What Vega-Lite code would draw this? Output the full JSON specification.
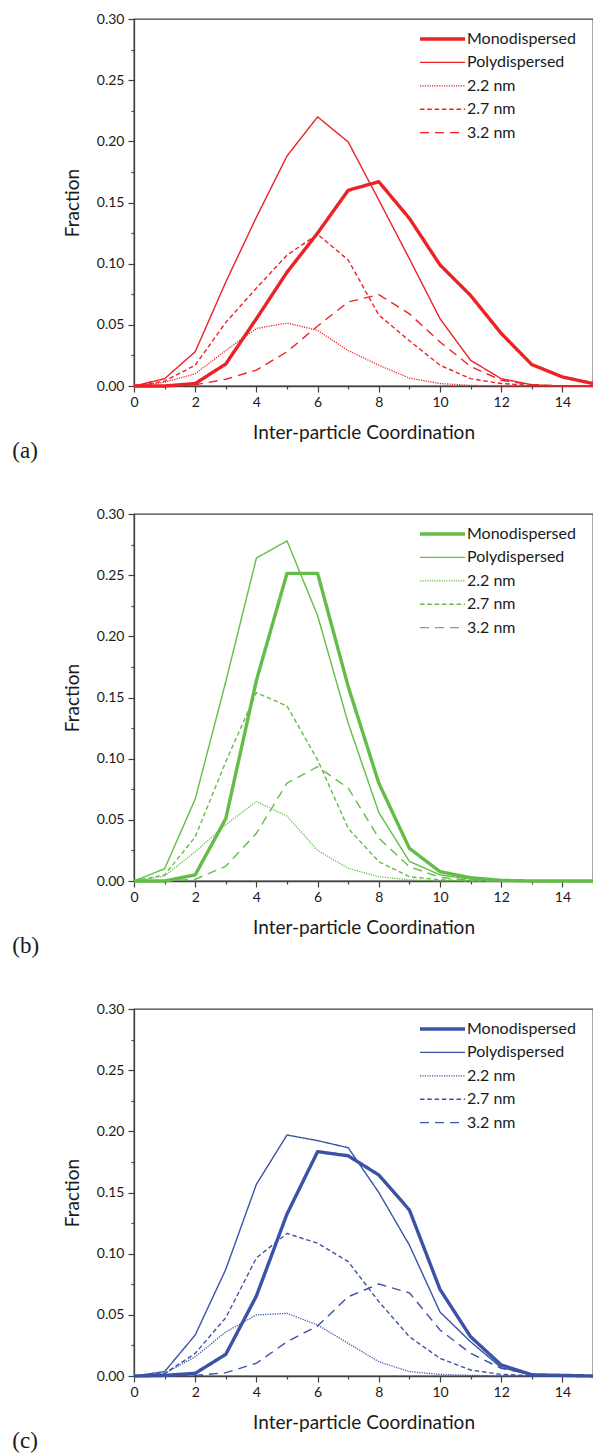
{
  "$schema": "https://vega.github.io/schema/vega-lite/v6.json",
  "padding": {"left": 11, "top": 11, "right": 0, "bottom": 0},
  "datasets": {
    "coord": [
      {"p": "a", "n": 0, "mono": 0, "poly": 0, "d22": 0, "d27": 0, "d32": 0},
      {"p": "a", "n": 1, "mono": 0, "poly": 0.006, "d22": 0.003, "d27": 0.004, "d32": 0},
      {"p": "a", "n": 2, "mono": 0.002, "poly": 0.028, "d22": 0.010, "d27": 0.017, "d32": 0.001},
      {"p": "a", "n": 3, "mono": 0.018, "poly": 0.085, "d22": 0.029, "d27": 0.052, "d32": 0.0055},
      {"p": "a", "n": 4, "mono": 0.055, "poly": 0.138, "d22": 0.047, "d27": 0.080, "d32": 0.013},
      {"p": "a", "n": 5, "mono": 0.093, "poly": 0.188, "d22": 0.0515, "d27": 0.107, "d32": 0.028},
      {"p": "a", "n": 6, "mono": 0.125, "poly": 0.220, "d22": 0.0455, "d27": 0.124, "d32": 0.049},
      {"p": "a", "n": 7, "mono": 0.160, "poly": 0.1995, "d22": 0.029, "d27": 0.103, "d32": 0.0687},
      {"p": "a", "n": 8, "mono": 0.167, "poly": 0.152, "d22": 0.017, "d27": 0.058, "d32": 0.0747},
      {"p": "a", "n": 9, "mono": 0.137, "poly": 0.104, "d22": 0.0065, "d27": 0.037, "d32": 0.059},
      {"p": "a", "n": 10, "mono": 0.099, "poly": 0.055, "d22": 0.002, "d27": 0.017, "d32": 0.036},
      {"p": "a", "n": 11, "mono": 0.074, "poly": 0.021, "d22": 0.0005, "d27": 0.006, "d32": 0.016},
      {"p": "a", "n": 12, "mono": 0.043, "poly": 0.006, "d22": 0, "d27": 0.002, "d32": 0.0047},
      {"p": "a", "n": 13, "mono": 0.0175, "poly": 0.001, "d22": 0, "d27": 0.0005, "d32": 0.001},
      {"p": "a", "n": 14, "mono": 0.0074, "poly": 0, "d22": 0, "d27": 0, "d32": 0},
      {"p": "a", "n": 15, "mono": 0.002, "poly": 0, "d22": 0, "d27": 0, "d32": 0},
      {"p": "b", "n": 0, "mono": 0, "poly": 0, "d22": 0, "d27": 0, "d32": 0},
      {"p": "b", "n": 1, "mono": 0, "poly": 0.010, "d22": 0.004, "d27": 0.005, "d32": 0},
      {"p": "b", "n": 2, "mono": 0.005, "poly": 0.067, "d22": 0.024, "d27": 0.036, "d32": 0.0014},
      {"p": "b", "n": 3, "mono": 0.051, "poly": 0.163, "d22": 0.046, "d27": 0.0975, "d32": 0.012},
      {"p": "b", "n": 4, "mono": 0.164, "poly": 0.264, "d22": 0.065, "d27": 0.154, "d32": 0.039},
      {"p": "b", "n": 5, "mono": 0.2515, "poly": 0.278, "d22": 0.053, "d27": 0.143, "d32": 0.080},
      {"p": "b", "n": 6, "mono": 0.2515, "poly": 0.217, "d22": 0.025, "d27": 0.099, "d32": 0.0934},
      {"p": "b", "n": 7, "mono": 0.159, "poly": 0.129, "d22": 0.0104, "d27": 0.043, "d32": 0.076},
      {"p": "b", "n": 8, "mono": 0.080, "poly": 0.056, "d22": 0.0035, "d27": 0.0158, "d32": 0.035},
      {"p": "b", "n": 9, "mono": 0.0267, "poly": 0.016, "d22": 0.001, "d27": 0.0035, "d32": 0.0117},
      {"p": "b", "n": 10, "mono": 0.0076, "poly": 0.005, "d22": 0, "d27": 0.001, "d32": 0.003},
      {"p": "b", "n": 11, "mono": 0.0027, "poly": 0.0015, "d22": 0, "d27": 0, "d32": 0.0005},
      {"p": "b", "n": 12, "mono": 0.0005, "poly": 0.0005, "d22": 0, "d27": 0, "d32": 0},
      {"p": "b", "n": 13, "mono": 0, "poly": 0, "d22": 0, "d27": 0, "d32": 0},
      {"p": "b", "n": 14, "mono": 0, "poly": 0, "d22": 0, "d27": 0, "d32": 0},
      {"p": "b", "n": 15, "mono": 0, "poly": 0, "d22": 0, "d27": 0, "d32": 0},
      {"p": "c", "n": 0, "mono": 0, "poly": 0, "d22": 0, "d27": 0, "d32": 0},
      {"p": "c", "n": 1, "mono": 0.0005, "poly": 0.0036, "d22": 0.002, "d27": 0.002, "d32": 0},
      {"p": "c", "n": 2, "mono": 0.0022, "poly": 0.0335, "d22": 0.0158, "d27": 0.0185, "d32": 0.0005},
      {"p": "c", "n": 3, "mono": 0.0177, "poly": 0.0872, "d22": 0.036, "d27": 0.0477, "d32": 0.0027},
      {"p": "c", "n": 4, "mono": 0.0654, "poly": 0.1567, "d22": 0.0499, "d27": 0.0965, "d32": 0.0104},
      {"p": "c", "n": 5, "mono": 0.1324, "poly": 0.197, "d22": 0.0512, "d27": 0.1166, "d32": 0.028},
      {"p": "c", "n": 6, "mono": 0.1834, "poly": 0.1924, "d22": 0.0417, "d27": 0.1085, "d32": 0.0409},
      {"p": "c", "n": 7, "mono": 0.180, "poly": 0.1866, "d22": 0.0267, "d27": 0.0935, "d32": 0.0648},
      {"p": "c", "n": 8, "mono": 0.1643, "poly": 0.150, "d22": 0.0117, "d27": 0.0608, "d32": 0.0752},
      {"p": "c", "n": 9, "mono": 0.1357, "poly": 0.107, "d22": 0.0036, "d27": 0.0321, "d32": 0.068},
      {"p": "c", "n": 10, "mono": 0.0708, "poly": 0.0523, "d22": 0.0013, "d27": 0.0144, "d32": 0.0376},
      {"p": "c", "n": 11, "mono": 0.0321, "poly": 0.028, "d22": 0.0005, "d27": 0.0049, "d32": 0.0185},
      {"p": "c", "n": 12, "mono": 0.009, "poly": 0.0068, "d22": 0, "d27": 0.0013, "d32": 0.0063},
      {"p": "c", "n": 13, "mono": 0.001, "poly": 0.001, "d22": 0, "d27": 0.0003, "d32": 0.0013},
      {"p": "c", "n": 14, "mono": 0.0005, "poly": 0, "d22": 0, "d27": 0, "d32": 0.0003},
      {"p": "c", "n": 15, "mono": 0, "poly": 0, "d22": 0, "d27": 0, "d32": 0}
    ]
  },
  "config": {
    "font": "Lato",
    "view": {"stroke": "#404040", "strokeWidth": 1.3},
    "axis": {
      "grid": false,
      "domainColor": "#404040",
      "domainWidth": 1.3,
      "tickColor": "#404040",
      "tickWidth": 1.2,
      "labelFont": "Lato",
      "labelFontSize": 14,
      "labelColor": "#1a1a1a",
      "labelOverlap": false,
      "labelFlush": false,
      "labelBound": false,
      "titleFont": "Lato",
      "titleFontSize": 19,
      "titleFontWeight": "normal",
      "titleColor": "#1a1a1a"
    },
    "axisX": {"labelPadding": 3, "titlePadding": 14},
    "axisY": {"labelPadding": 4, "titlePadding": 14},
    "title": {
      "font": "Liberation Serif",
      "fontSize": 23,
      "fontWeight": "normal",
      "color": "#1a1a1a",
      "orient": "bottom",
      "anchor": "start",
      "frame": "bounds",
      "dx": -51,
      "offset": -2
    },
    "legend": {
      "symbolType": "M-4.5,0H4.5",
      "symbolSize": 100,
      "labelOffset": 16.5,
      "labelFont": "Lato",
      "labelFontSize": 16,
      "labelColor": "#1a1a1a",
      "rowPadding": 7.4,
      "padding": 0
    }
  },
  "spacing": 128,
  "bounds": "flush",
  "resolve": {
    "scale": {"color": "independent", "strokeDash": "independent", "strokeWidth": "independent"},
    "legend": {"color": "independent", "strokeDash": "independent", "strokeWidth": "independent"}
  },
  "vconcat": [
    {
      "width": 459,
      "height": 367,
      "title": "(a)",
      "data": {"name": "coord"},
      "transform": [
        {"filter": "datum.p === 'a'"},
        {"fold": ["mono", "poly", "d22", "d27", "d32"], "as": ["s", "f"]}
      ],
      "mark": {"type": "line", "strokeJoin": "round"},
      "encoding": {
        "x": {"field": "n", "type": "quantitative", "scale": {"domain": [0, 15], "nice": false, "zero": false},
          "axis": {"title": "Inter-particle Coordination", "values": [0, 1, 2, 3, 4, 5, 6, 7, 8, 9, 10, 11, 12, 13, 14, 15],
            "labelExpr": "datum.value % 2 === 0 ? datum.label : ''",
            "tickSize": {"condition": {"test": "datum.value % 2 === 0", "value": 6}, "value": 3}}},
        "y": {"field": "f", "type": "quantitative", "scale": {"domain": [0, 0.3], "nice": false},
          "axis": {"title": "Fraction", "values": [0, 0.025, 0.05, 0.075, 0.1, 0.125, 0.15, 0.175, 0.2, 0.225, 0.25, 0.275, 0.3],
            "labelExpr": "round(datum.value * 1000) % 50 === 0 ? format(datum.value, '.2f') : ''",
            "tickSize": {"condition": {"test": "round(datum.value * 1000) % 50 === 0", "value": 6}, "value": 3}}},
        "color": {"field": "s", "type": "nominal",
          "scale": {"domain": ["mono", "poly", "d22", "d27", "d32"], "range": ["#ec2227", "#ec2227", "#ec2227", "#ec2227", "#ec2227"]},
          "legend": {"title": null, "orient": "none", "legendX": 300.5, "legendY": 12,
            "labelExpr": "datum.value == 'mono' ? 'Monodispersed' : datum.value == 'poly' ? 'Polydispersed' : datum.value == 'd22' ? '2.2 nm' : datum.value == 'd27' ? '2.7 nm' : '3.2 nm'"}},
        "strokeDash": {"field": "s", "type": "nominal",
          "scale": {"domain": ["mono", "poly", "d22", "d27", "d32"], "range": [[1, 0], [1, 0], [1.2, 1.2], [4.5, 2.8], [9, 6]]},
          "legend": {"title": null, "orient": "none", "legendX": 300.5, "legendY": 12,
            "labelExpr": "datum.value == 'mono' ? 'Monodispersed' : datum.value == 'poly' ? 'Polydispersed' : datum.value == 'd22' ? '2.2 nm' : datum.value == 'd27' ? '2.7 nm' : '3.2 nm'"}},
        "strokeWidth": {"field": "s", "type": "nominal",
          "scale": {"type": "ordinal", "domain": ["mono", "poly", "d22", "d27", "d32"], "range": [3.4, 1.4, 1.3, 1.4, 1.4]},
          "legend": {"title": null, "orient": "none", "legendX": 300.5, "legendY": 12,
            "labelExpr": "datum.value == 'mono' ? 'Monodispersed' : datum.value == 'poly' ? 'Polydispersed' : datum.value == 'd22' ? '2.2 nm' : datum.value == 'd27' ? '2.7 nm' : '3.2 nm'"}}
      }
    },
    {
      "width": 459,
      "height": 367,
      "title": "(b)",
      "data": {"name": "coord"},
      "transform": [
        {"filter": "datum.p === 'b'"},
        {"fold": ["mono", "poly", "d22", "d27", "d32"], "as": ["s", "f"]}
      ],
      "mark": {"type": "line", "strokeJoin": "round"},
      "encoding": {
        "x": {"field": "n", "type": "quantitative", "scale": {"domain": [0, 15], "nice": false, "zero": false},
          "axis": {"title": "Inter-particle Coordination", "values": [0, 1, 2, 3, 4, 5, 6, 7, 8, 9, 10, 11, 12, 13, 14, 15],
            "labelExpr": "datum.value % 2 === 0 ? datum.label : ''",
            "tickSize": {"condition": {"test": "datum.value % 2 === 0", "value": 6}, "value": 3}}},
        "y": {"field": "f", "type": "quantitative", "scale": {"domain": [0, 0.3], "nice": false},
          "axis": {"title": "Fraction", "values": [0, 0.025, 0.05, 0.075, 0.1, 0.125, 0.15, 0.175, 0.2, 0.225, 0.25, 0.275, 0.3],
            "labelExpr": "round(datum.value * 1000) % 50 === 0 ? format(datum.value, '.2f') : ''",
            "tickSize": {"condition": {"test": "round(datum.value * 1000) % 50 === 0", "value": 6}, "value": 3}}},
        "color": {"field": "s", "type": "nominal",
          "scale": {"domain": ["mono", "poly", "d22", "d27", "d32"], "range": ["#63bd47", "#63bd47", "#63bd47", "#63bd47", "#63bd47"]},
          "legend": {"title": null, "orient": "none", "legendX": 300.5, "legendY": 12,
            "labelExpr": "datum.value == 'mono' ? 'Monodispersed' : datum.value == 'poly' ? 'Polydispersed' : datum.value == 'd22' ? '2.2 nm' : datum.value == 'd27' ? '2.7 nm' : '3.2 nm'"}},
        "strokeDash": {"field": "s", "type": "nominal",
          "scale": {"domain": ["mono", "poly", "d22", "d27", "d32"], "range": [[1, 0], [1, 0], [1.2, 1.2], [4.5, 2.8], [9, 6]]},
          "legend": {"title": null, "orient": "none", "legendX": 300.5, "legendY": 12,
            "labelExpr": "datum.value == 'mono' ? 'Monodispersed' : datum.value == 'poly' ? 'Polydispersed' : datum.value == 'd22' ? '2.2 nm' : datum.value == 'd27' ? '2.7 nm' : '3.2 nm'"}},
        "strokeWidth": {"field": "s", "type": "nominal",
          "scale": {"type": "ordinal", "domain": ["mono", "poly", "d22", "d27", "d32"], "range": [3.4, 1.4, 1.3, 1.4, 1.4]},
          "legend": {"title": null, "orient": "none", "legendX": 300.5, "legendY": 12,
            "labelExpr": "datum.value == 'mono' ? 'Monodispersed' : datum.value == 'poly' ? 'Polydispersed' : datum.value == 'd22' ? '2.2 nm' : datum.value == 'd27' ? '2.7 nm' : '3.2 nm'"}}
      }
    },
    {
      "width": 459,
      "height": 367,
      "title": "(c)",
      "data": {"name": "coord"},
      "transform": [
        {"filter": "datum.p === 'c'"},
        {"fold": ["mono", "poly", "d22", "d27", "d32"], "as": ["s", "f"]}
      ],
      "mark": {"type": "line", "strokeJoin": "round"},
      "encoding": {
        "x": {"field": "n", "type": "quantitative", "scale": {"domain": [0, 15], "nice": false, "zero": false},
          "axis": {"title": "Inter-particle Coordination", "values": [0, 1, 2, 3, 4, 5, 6, 7, 8, 9, 10, 11, 12, 13, 14, 15],
            "labelExpr": "datum.value % 2 === 0 ? datum.label : ''",
            "tickSize": {"condition": {"test": "datum.value % 2 === 0", "value": 6}, "value": 3}}},
        "y": {"field": "f", "type": "quantitative", "scale": {"domain": [0, 0.3], "nice": false},
          "axis": {"title": "Fraction", "values": [0, 0.025, 0.05, 0.075, 0.1, 0.125, 0.15, 0.175, 0.2, 0.225, 0.25, 0.275, 0.3],
            "labelExpr": "round(datum.value * 1000) % 50 === 0 ? format(datum.value, '.2f') : ''",
            "tickSize": {"condition": {"test": "round(datum.value * 1000) % 50 === 0", "value": 6}, "value": 3}}},
        "color": {"field": "s", "type": "nominal",
          "scale": {"domain": ["mono", "poly", "d22", "d27", "d32"], "range": ["#3b53a7", "#3b53a7", "#3b53a7", "#3b53a7", "#3b53a7"]},
          "legend": {"title": null, "orient": "none", "legendX": 300.5, "legendY": 12,
            "labelExpr": "datum.value == 'mono' ? 'Monodispersed' : datum.value == 'poly' ? 'Polydispersed' : datum.value == 'd22' ? '2.2 nm' : datum.value == 'd27' ? '2.7 nm' : '3.2 nm'"}},
        "strokeDash": {"field": "s", "type": "nominal",
          "scale": {"domain": ["mono", "poly", "d22", "d27", "d32"], "range": [[1, 0], [1, 0], [1.2, 1.2], [4.5, 2.8], [9, 6]]},
          "legend": {"title": null, "orient": "none", "legendX": 300.5, "legendY": 12,
            "labelExpr": "datum.value == 'mono' ? 'Monodispersed' : datum.value == 'poly' ? 'Polydispersed' : datum.value == 'd22' ? '2.2 nm' : datum.value == 'd27' ? '2.7 nm' : '3.2 nm'"}},
        "strokeWidth": {"field": "s", "type": "nominal",
          "scale": {"type": "ordinal", "domain": ["mono", "poly", "d22", "d27", "d32"], "range": [3.4, 1.4, 1.3, 1.4, 1.4]},
          "legend": {"title": null, "orient": "none", "legendX": 300.5, "legendY": 12,
            "labelExpr": "datum.value == 'mono' ? 'Monodispersed' : datum.value == 'poly' ? 'Polydispersed' : datum.value == 'd22' ? '2.2 nm' : datum.value == 'd27' ? '2.7 nm' : '3.2 nm'"}}
      }
    }
  ]
}
